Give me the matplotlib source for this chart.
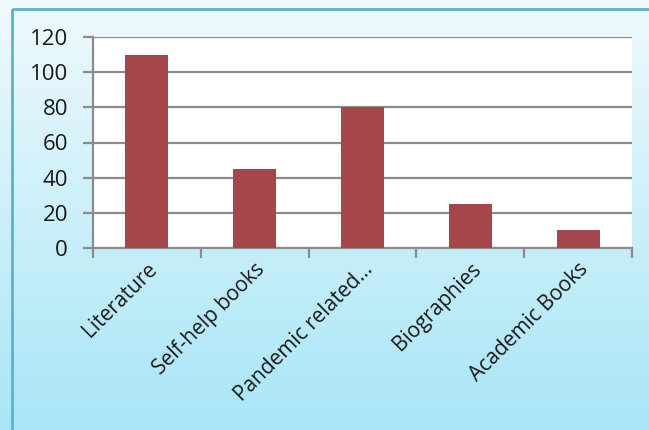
import numpy as np
import matplotlib.pyplot as plt
from matplotlib.patches import Rectangle

categories = ["Literature", "Self-help books", "Pandemic related...", "Biographies", "Academic Books"]
values = [110, 45, 80, 25, 10]
y_ticks = [0, 20, 40, 60, 80, 100, 120]

plt.rcParams['font.family'] = ['Open Sans', 'DejaVu Sans']

W, H = 649, 430
fig = plt.figure(figsize=(W / 100, H / 100), dpi=100)

# gradient background of the chart frame
bg = fig.add_axes([0, 0, 1, 1])
grad = np.linspace(0, 1, 256).reshape(-1, 1)
top = np.array([0.94, 0.98, 0.99])
bot = np.array([0.66, 0.90, 0.97])
img = top + grad[..., None] * (bot - top)
bg.imshow(img, aspect='auto', extent=[0, W, H, 0])
bg.set_xlim(0, W)
bg.set_ylim(H, 0)
bg.add_patch(Rectangle((12, 9), W, H, fill=False, edgecolor='#5ab4c8', lw=2))
bg.axis('off')

# plot area in pixels: x 93..632, y 37..248
x0, x1, y0, y1 = 93, 632, 37, 248
ax = fig.add_axes([x0 / W, 1 - y1 / H, (x1 - x0) / W, (y1 - y0) / H])
ax.set_facecolor('white')

x = np.arange(len(categories))
ax.bar(x, values, width=0.4, color='#a5474a', zorder=3)

ax.set_xlim(-0.5, len(categories) - 0.5)
ax.set_ylim(0, 120)
ax.set_yticks(y_ticks)
ax.yaxis.grid(True, color='#8c8c8c', lw=1.6, zorder=0)
for s in ['top', 'right']:
    ax.spines[s].set_visible(False)
for s in ['left', 'bottom']:
    ax.spines[s].set_color('#8c8c8c')
    ax.spines[s].set_linewidth(1.6)
ax.tick_params(axis='y', length=7, width=1.6, color='#8c8c8c', labelsize=16, labelcolor='#1a1a1a', pad=11)

ax.set_xticks(x)
ax.set_xticklabels(categories, rotation=45, ha='right', rotation_mode='anchor', fontsize=15, color='#1a1a1a')
ax.tick_params(axis='x', length=0, pad=8)
ax.set_xticks(np.arange(len(categories) + 1) - 0.5, minor=True)
ax.tick_params(axis='x', which='minor', length=7, width=1.6, color='#8c8c8c')

fig.savefig('out.png', dpi=100)
